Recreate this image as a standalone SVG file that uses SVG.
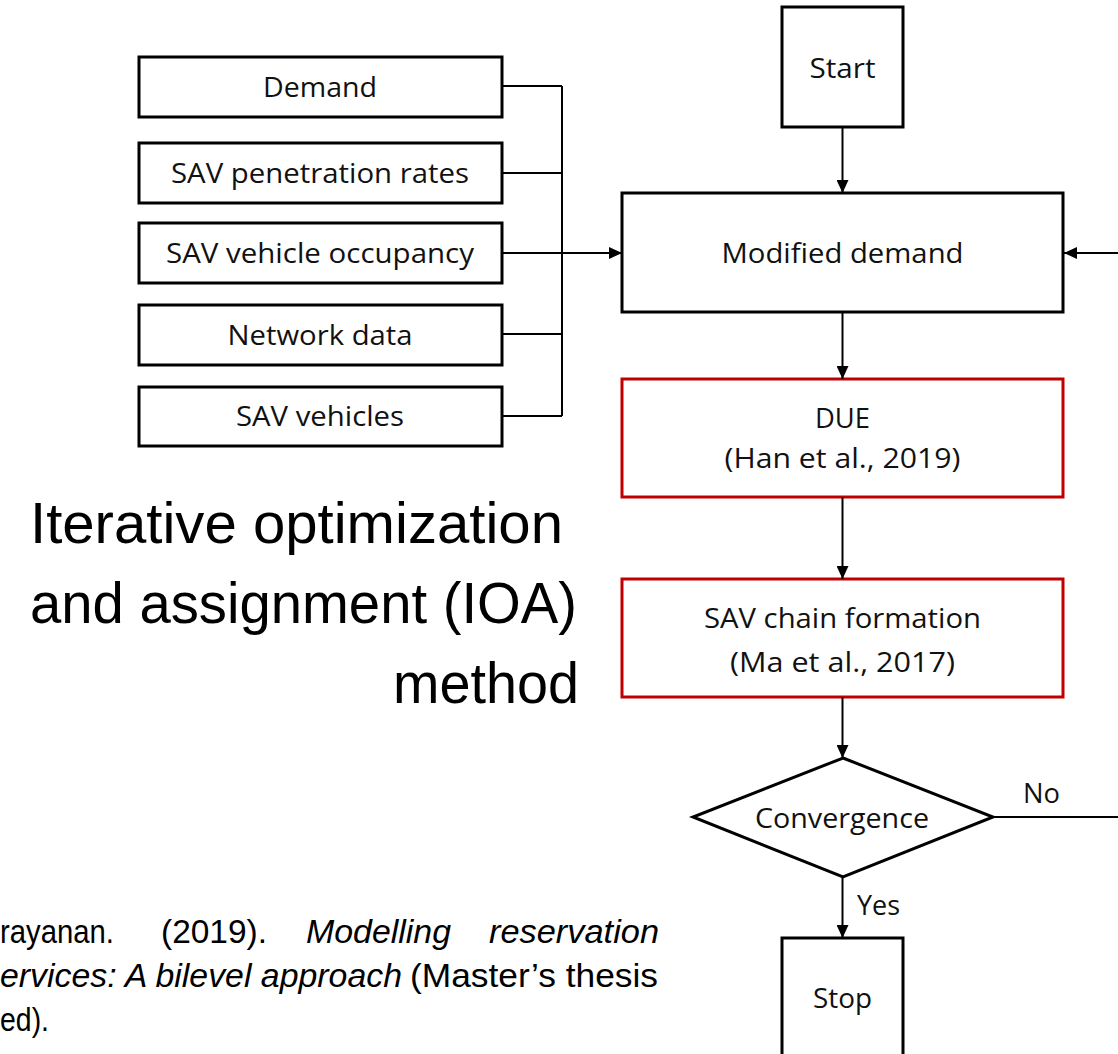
<svg xmlns="http://www.w3.org/2000/svg" width="1118" height="1054" viewBox="0 0 1118 1054">
  <defs>
    <marker id="arrow" markerUnits="userSpaceOnUse" markerWidth="13" markerHeight="12" refX="13" refY="6" orient="auto">
      <path d="M0,0 L13,6 L0,12 Z" fill="#000"/>
    </marker>
    <style>
      .box { fill: #fff; stroke: #000; stroke-width: 3; }
      .red { fill: #fff; stroke: #C00000; stroke-width: 3; }
      .lbl { font-family: "Open Sans", "Noto Sans", "DejaVu Sans", sans-serif; font-size: 27.5px; fill: #111; text-anchor: middle; }
      .wire { fill: none; stroke: #000; stroke-width: 2; }
      .title { font-family: "Liberation Sans", Arial, sans-serif; font-size: 58px; fill: #000; }
      .cite { font-family: "Liberation Sans Narrow", "Liberation Sans", Arial, sans-serif; font-size: 34px; fill: #000; }
      .it { font-style: italic; }
    </style>
  </defs>
  <rect width="1118" height="1054" fill="#fff"/>

  <!-- input boxes -->
  <g id="demand">
    <rect class="box" x="139" y="57" width="363" height="60"/>
    <text class="lbl" x="320" y="97" textLength="114" lengthAdjust="spacingAndGlyphs">Demand</text>
  </g>
  <g id="penetration">
    <rect class="box" x="139" y="143" width="363" height="60"/>
    <text class="lbl" x="320" y="183" textLength="298" lengthAdjust="spacingAndGlyphs">SAV penetration rates</text>
  </g>
  <g id="occupancy">
    <rect class="box" x="139" y="223" width="363" height="60"/>
    <text class="lbl" x="320" y="263" textLength="308" lengthAdjust="spacingAndGlyphs">SAV vehicle occupancy</text>
  </g>
  <g id="network">
    <rect class="box" x="139" y="305" width="363" height="60"/>
    <text class="lbl" x="320" y="345" textLength="185" lengthAdjust="spacingAndGlyphs">Network data</text>
  </g>
  <g id="vehicles">
    <rect class="box" x="139" y="387" width="363" height="59"/>
    <text class="lbl" x="320" y="426" textLength="168" lengthAdjust="spacingAndGlyphs">SAV vehicles</text>
  </g>

  <!-- main flow -->
  <g id="start">
    <rect class="box" x="782" y="7" width="121" height="120"/>
    <text class="lbl" x="842.5" y="78" textLength="66" lengthAdjust="spacingAndGlyphs">Start</text>
  </g>
  <g id="modified-demand">
    <rect class="box" x="622" y="193" width="441" height="119"/>
    <text class="lbl" x="842.5" y="263" textLength="242" lengthAdjust="spacingAndGlyphs">Modified demand</text>
  </g>
  <g id="due">
    <rect class="red" x="622" y="379" width="441" height="118"/>
    <text class="lbl" x="842.5" y="428" textLength="55" lengthAdjust="spacingAndGlyphs">DUE</text>
    <text class="lbl" x="842.5" y="468" textLength="236" lengthAdjust="spacingAndGlyphs">(Han et al., 2019)</text>
  </g>
  <g id="chain-formation">
    <rect class="red" x="622" y="579" width="441" height="118"/>
    <text class="lbl" x="842.5" y="628" textLength="277" lengthAdjust="spacingAndGlyphs">SAV chain formation</text>
    <text class="lbl" x="842.5" y="672" textLength="225" lengthAdjust="spacingAndGlyphs">(Ma et al., 2017)</text>
  </g>
  <g id="convergence">
    <polygon class="box" points="843,758 993,817 843,877 693,817"/>
    <text class="lbl" x="842" y="828" textLength="174" lengthAdjust="spacingAndGlyphs">Convergence</text>
  </g>
  <g id="stop">
    <rect class="box" x="782" y="938" width="121" height="140"/>
    <text class="lbl" x="842.5" y="1008" textLength="59" lengthAdjust="spacingAndGlyphs">Stop</text>
  </g>

  <!-- connectors -->
  <g id="connectors">
    <path class="wire" d="M502,86 H562 M502,173 H562 M502,253 H562 M502,334 H562 M502,416 H562 M562,86 V416"/>
    <path class="wire" d="M562,253 H622" marker-end="url(#arrow)"/>
    <path class="wire" d="M842.5,127 V193" marker-end="url(#arrow)"/>
    <path class="wire" d="M842.5,312 V379" marker-end="url(#arrow)"/>
    <path class="wire" d="M842.5,497 V579" marker-end="url(#arrow)"/>
    <path class="wire" d="M842.5,697 V758" marker-end="url(#arrow)"/>
    <path class="wire" d="M842.5,877 V938" marker-end="url(#arrow)"/>
    <path class="wire" d="M993,817 H1140 V253 H1064" marker-end="url(#arrow)"/>
    <text class="lbl" x="1041.5" y="803" textLength="37" lengthAdjust="spacingAndGlyphs">No</text>
    <text class="lbl" x="878.5" y="915" textLength="43" lengthAdjust="spacingAndGlyphs">Yes</text>
  </g>

  <!-- method title -->
  <text class="title" x="30" y="543" textLength="533" lengthAdjust="spacingAndGlyphs">Iterative optimization</text>
  <text class="title" x="30" y="623" textLength="547" lengthAdjust="spacingAndGlyphs">and assignment (IOA)</text>
  <text class="title" x="393" y="703" textLength="186" lengthAdjust="spacingAndGlyphs">method</text>

  <!-- reference line -->
  <text class="cite" x="0" y="943" textLength="114" lengthAdjust="spacingAndGlyphs">rayanan.</text>
  <text class="cite" x="161" y="943" textLength="106" lengthAdjust="spacingAndGlyphs">(2019).</text>
  <text class="cite it" x="306" y="943" textLength="145" lengthAdjust="spacingAndGlyphs">Modelling</text>
  <text class="cite it" x="489" y="943" textLength="170" lengthAdjust="spacingAndGlyphs">reservation</text>
  <text class="cite it" x="0" y="987" textLength="402" lengthAdjust="spacingAndGlyphs">ervices: A bilevel approach</text>
  <text class="cite" x="410" y="987" textLength="248" lengthAdjust="spacingAndGlyphs">(Master’s thesis</text>
  <text class="cite" x="0" y="1031" textLength="49" lengthAdjust="spacingAndGlyphs">ed).</text>
</svg>
